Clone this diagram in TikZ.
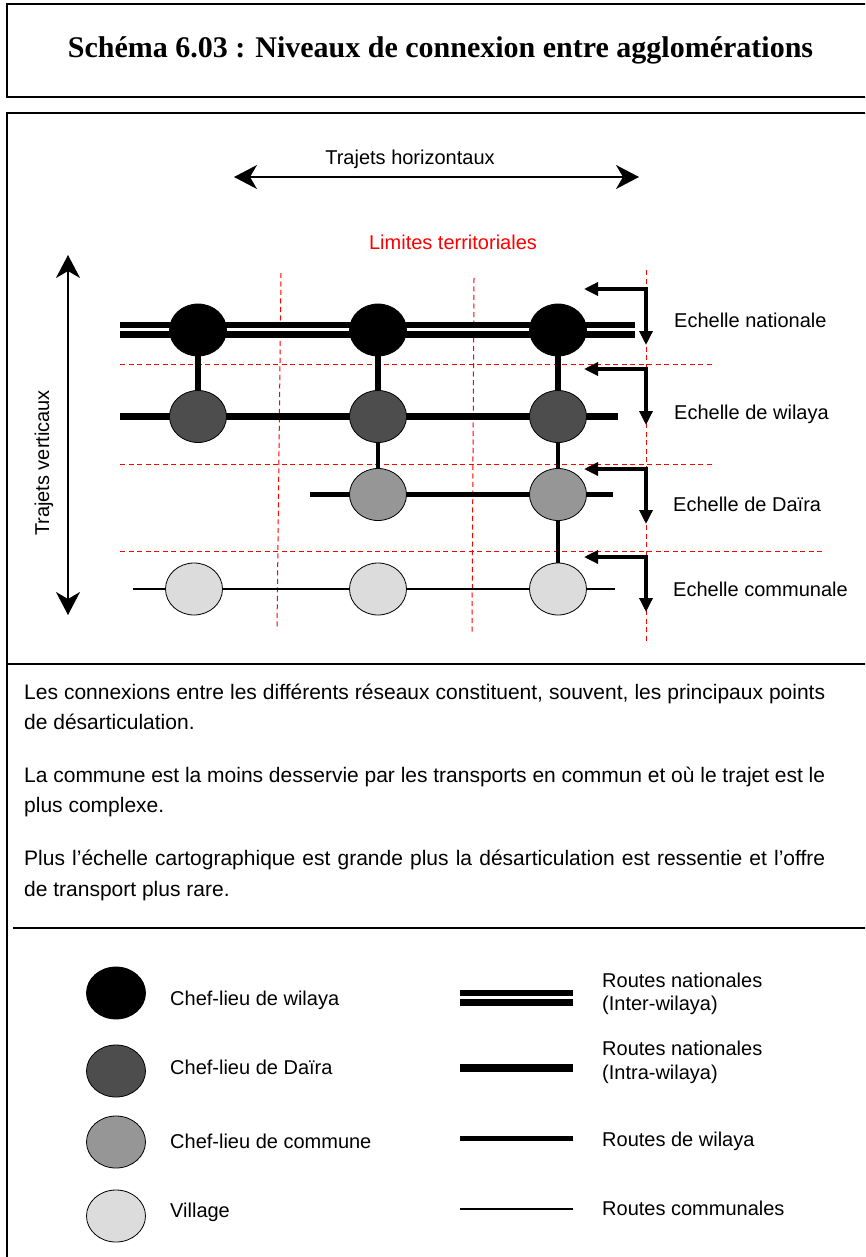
\documentclass[tikz,border=0pt]{standalone}
\usepackage{fontspec}
\setmainfont{Liberation Sans}
\newfontfamily\titlefont{Liberation Serif}
\usetikzlibrary{shapes.geometric,arrows.meta}
\pgfdeclarelayer{grid}
\pgfdeclarelayer{roads}
\pgfsetlayers{grid,roads,main}
\definecolor{cdaira}{HTML}{4D4D4D}
\definecolor{ccomm}{HTML}{969696}
\definecolor{cvill}{HTML}{DCDCDC}
\definecolor{limred}{HTML}{FF0000}
\tikzset{
  city/.style={ellipse, draw=black, line width=0.8pt, minimum width=57pt, minimum height=52pt, inner sep=0pt},
  wil/.style={city, fill=black},
  dai/.style={city, fill=cdaira},
  com/.style={city, fill=ccomm},
  vil/.style={city, fill=cvill},
  legcity/.style={minimum width=59pt},
  lbl/.style={font=\fontsize{20}{23}\selectfont, inner sep=0pt},
  para/.style={font=\fontsize{21}{24}\selectfont, inner sep=0pt, anchor=base west},
  titlestyle/.style={font=\titlefont\bfseries\fontsize{30}{36}\selectfont, inner sep=0pt},
  limit/.style={limred, line width=1pt, dash pattern=on 5pt off 3.5pt},
  scalearrow/.style={line width=3.3pt, {Triangle[length=14pt,width=13pt]}-{Triangle[length=14pt,width=13pt]}},
  bigarrow/.style={line width=1.3pt, {Stealth[length=23pt,width=24pt,inset=7pt]}-{Stealth[length=23pt,width=24pt,inset=7pt]}},
  frame/.style={line width=2pt},
  rnband/.style={line width=16pt},
  rngap/.style={white, line width=3.3pt},
  rnintra/.style={line width=7pt},
  rwil/.style={line width=4.8pt},
  rcom/.style={line width=1.3pt},
  link1/.style={line width=6.5pt},
  link2/.style={line width=4.5pt},
}
\begin{document}
\begin{tikzpicture}[x=1pt,y=-1pt]
\useasboundingbox (0,0) rectangle (865,1257);
\clip (0,0) rectangle (865,1257);

% ---------- frames ----------
\draw[frame] (7,4) rectangle (880,97);
\draw[frame] (7,1280) -- (7,113) -- (880,113);
\draw[frame] (7,664) -- (880,664);
\draw[frame] (13,928) -- (880,928);

\node[titlestyle, anchor=base] (title) at (440.5,57.5) {Schéma 6.03 : Niveaux de connexion entre agglomérations};

% ---------- top labels and big arrows ----------
\node[lbl, anchor=base] (th) at (410,165) {Trajets horizontaux};
\coordinate (thl) at (234,177);
\coordinate (thr) at (639,177);
\draw[bigarrow] (thl) -- (thr);

\node[lbl, anchor=base, text=limred] (lim) at (453,250) {Limites territoriales};

\node[lbl, anchor=base, rotate=90] (tv) at (49,463) {Trajets verticaux};
\coordinate (tvt) at (68,255);
\coordinate (tvb) at (68,615);
\draw[bigarrow] (tvt) -- (tvb);

% ---------- city nodes ----------
\node[wil] (w1) at (198,330) {};
\node[wil] (w2) at (378,330) {};
\node[wil] (w3) at (558,330) {};
\node[dai] (d1) at (198,416.5) {};
\node[dai] (d2) at (378,416.5) {};
\node[dai] (d3) at (558,416.5) {};
\node[com] (c2) at (378,494.5) {};
\node[com] (c3) at (558,494.5) {};
\node[vil] (v1) at (194,589) {};
\node[vil] (v2) at (378,589) {};
\node[vil] (v3) at (558,589) {};

% road ends
\coordinate (r1w) at (120,329.5);
\coordinate (r1e) at (635,329.5);
\coordinate (r2w) at (120,416.5);
\coordinate (r2e) at (618,416.5);
\coordinate (r3w) at (310,494.5);
\coordinate (r3e) at (613,494.5);
\coordinate (r4w) at (133,589);
\coordinate (r4e) at (615,589);

% red limits
\coordinate (lv1t) at (281,273); \coordinate (lv1b) at (277,630);
\coordinate (lv2t) at (474,278); \coordinate (lv2b) at (472,632);
\coordinate (lv3t) at (646,270); \coordinate (lv3b) at (646,642);
\coordinate (lh1w) at (120,364.5); \coordinate (lh1e) at (712,364.5);
\coordinate (lh2w) at (120,464.5); \coordinate (lh2e) at (712,464.5);
\coordinate (lh3w) at (120,551); \coordinate (lh3e) at (824,551);

\begin{pgfonlayer}{grid}
\draw[limit] (lv1t) -- (lv1b);
\draw[limit] (lv2t) -- (lv2b);
\draw[limit] (lv3t) -- (lv3b);
\draw[limit] (lh1w) -- (lh1e);
\draw[limit] (lh2w) -- (lh2e);
\draw[limit] (lh3w) -- (lh3e);
\end{pgfonlayer}

\begin{pgfonlayer}{roads}
\draw[rnband] (r1w) -- (r1e);
\draw[rngap] (r1w) -- (r1e);
\draw[rnintra] (r2w) -- (d1.center) -- (d2.center) -- (d3.center) -- (r2e);
\draw[rwil] (r3w) -- (c2.center) -- (c3.center) -- (r3e);
\draw[rcom] (r4w) -- (v1.center) -- (v2.center) -- (v3.center) -- (r4e);
\draw[link1] (w1.center) -- (d1.center);
\draw[link1] (w2.center) -- (d2.center);
\draw[link1] (w3.center) -- (d3.center);
\draw[link2] (d2.center) -- (c2.center);
\draw[link2] (d3.center) -- (c3.center);
\draw[link2] (c3.center) -- (v3.center);
\end{pgfonlayer}

% ---------- scale arrows ----------
\coordinate (a1s) at (584,289); \coordinate (a1c) at (646,289); \coordinate (a1e) at (646,345);
\coordinate (a2s) at (584,369); \coordinate (a2c) at (646,369); \coordinate (a2e) at (646,425);
\coordinate (a3s) at (584,469); \coordinate (a3c) at (646,469); \coordinate (a3e) at (646,524);
\coordinate (a4s) at (584,557); \coordinate (a4c) at (646,557); \coordinate (a4e) at (646,612);
\draw[scalearrow] (a1s) -- (a1c) -- (a1e);
\draw[scalearrow] (a2s) -- (a2c) -- (a2e);
\draw[scalearrow] (a3s) -- (a3c) -- (a3e);
\draw[scalearrow] (a4s) -- (a4c) -- (a4e);

\node[lbl, anchor=base west] (en) at (674,327.3) {Echelle nationale};
\node[lbl, anchor=base west] (ew) at (674,419.3) {Echelle de wilaya};
\node[lbl, anchor=base west] (ed) at (673,511.7) {Echelle de Daïra};
\node[lbl, anchor=base west] (ec) at (673,596.7) {Echelle communale};

% ---------- text ----------
\node[para] (p1a) at (24,699) {\makebox[801pt][s]{Les connexions entre les différents réseaux constituent, souvent, les principaux points}};
\node[para] (p1b) at (24,729) {de désarticulation.};
\node[para] (p2a) at (24,782) {\makebox[801pt][s]{La commune est la moins desservie par les transports en commun et où le trajet est le}};
\node[para] (p2b) at (24,812) {plus complexe.};
\node[para] (p3a) at (24,865) {\makebox[801pt][s]{Plus l’échelle cartographique est grande plus la désarticulation est ressentie et l’offre}};
\node[para] (p3b) at (24,896) {de transport plus rare.};

% ---------- legend ----------
\node[wil, legcity] (lw) at (116,993) {};
\node[dai, legcity] (ld) at (116,1071) {};
\node[com, legcity] (lc) at (116,1142) {};
\node[vil, legcity] (lv) at (116,1216) {};
\node[lbl, anchor=base west] (tlw) at (170,1005) {Chef-lieu de wilaya};
\node[lbl, anchor=base west] (tld) at (170,1074) {Chef-lieu de Daïra};
\node[lbl, anchor=base west] (tlc) at (170,1148) {Chef-lieu de commune};
\node[lbl, anchor=base west] (tlv) at (170,1217) {Village};

\coordinate (g1w) at (460,997.5); \coordinate (g1e) at (573,997.5);
\coordinate (g2w) at (460,1068); \coordinate (g2e) at (573,1068);
\coordinate (g3w) at (460,1138); \coordinate (g3e) at (573,1138);
\coordinate (g4w) at (460,1209); \coordinate (g4e) at (573,1209);
\draw[rnband] (g1w) -- (g1e);
\draw[rngap] (g1w) -- (g1e);
\draw[line width=7.5pt] (g2w) -- (g2e);
\draw[line width=5pt] (g3w) -- (g3e);
\draw[rcom] (g4w) -- (g4e);

\node[lbl, anchor=base west] (tg1a) at (602,987.3) {Routes nationales};
\node[lbl, anchor=base west] (tg1b) at (602,1010.5) {(Inter-wilaya)};
\node[lbl, anchor=base west] (tg2a) at (602,1055.7) {Routes nationales};
\node[lbl, anchor=base west] (tg2b) at (602,1079) {(Intra-wilaya)};
\node[lbl, anchor=base west] (tg3) at (602,1146.7) {Routes de wilaya};
\node[lbl, anchor=base west] (tg4) at (602,1215) {Routes communales};
\end{tikzpicture}
\end{document}
